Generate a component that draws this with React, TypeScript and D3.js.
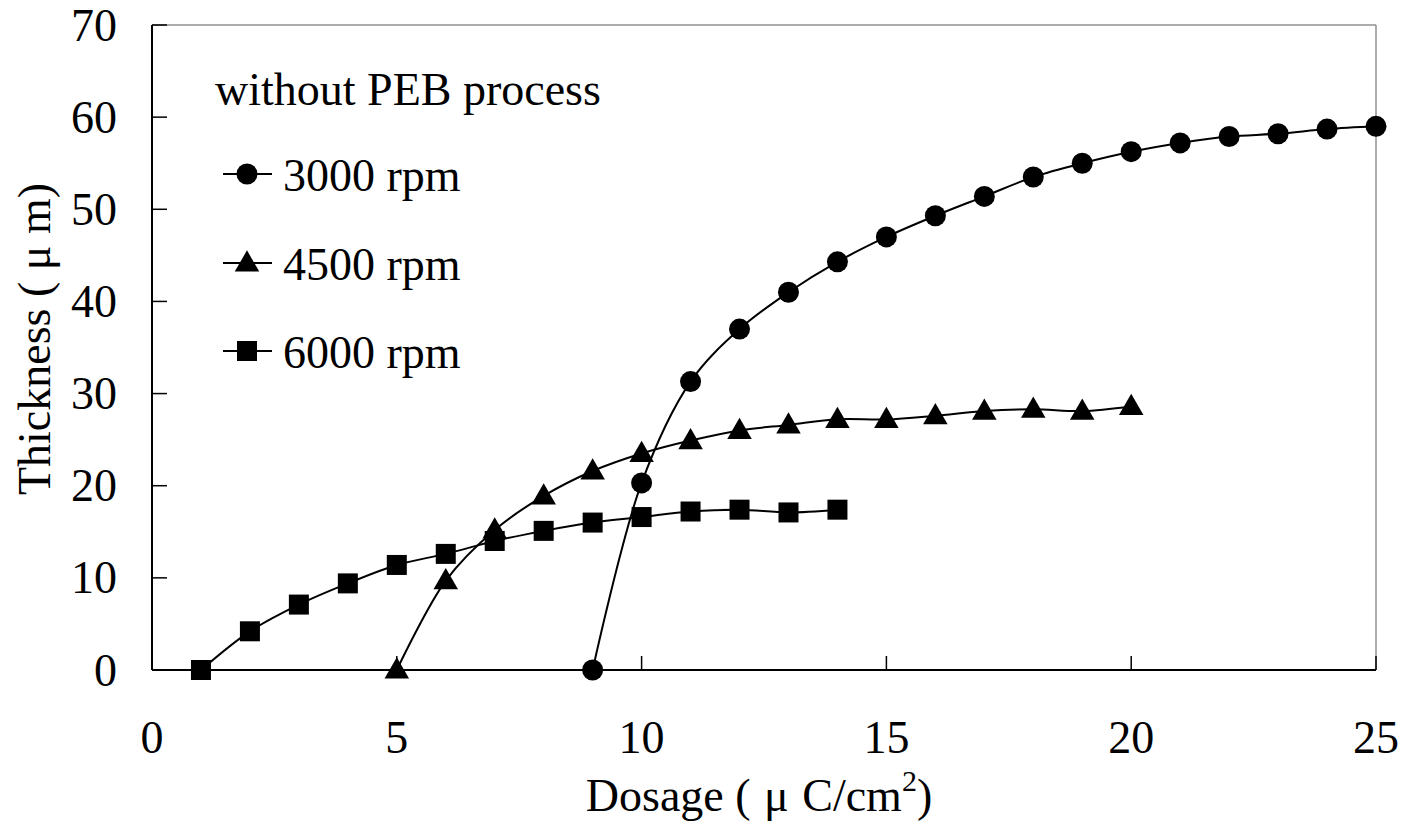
import React from "react";
import * as d3 from "d3";

const xTicks = [0, 5, 10, 15, 20, 25];
const yTicks = [0, 10, 20, 30, 40, 50, 60, 70];

const dose3000 = [9, 10, 11, 12, 13, 14, 15, 16, 17, 18, 19, 20, 21, 22, 23, 24, 25];
const thick3000 = [0, 20.3, 31.3, 37.0, 41.0, 44.3, 47.0, 49.3, 51.4, 53.5, 55.0, 56.25, 57.2, 57.9, 58.2, 58.7, 59.0];

const dose4500 = [5, 6, 7, 8, 9, 10, 11, 12, 13, 14, 15, 16, 17, 18, 19, 20];
const thick4500 = [0, 9.7, 15.2, 18.9, 21.6, 23.5, 24.9, 26.0, 26.6, 27.2, 27.2, 27.6, 28.1, 28.3, 28.1, 28.6];

const dose6000 = [1, 2, 3, 4, 5, 6, 7, 8, 9, 10, 11, 12, 13, 14];
const thick6000 = [0, 4.2, 7.1, 9.4, 11.4, 12.6, 14.0, 15.1, 16.0, 16.6, 17.2, 17.4, 17.1, 17.4];

const legendTitle = "without PEB process";
const seriesNames = ["3000 rpm", "4500 rpm", "6000 rpm"];

const W = 1406;
const H = 835;
const L = 152, R = 1376, T = 25, B = 670;
const FONT = "'Liberation Serif', 'Times New Roman', serif";
const FS = 46;

function Marker({ kind, x, y }: { kind: string; x: number; y: number }) {
  if (kind === "circle") return <circle cx={x} cy={y} r={10.5} fill="#000" />;
  if (kind === "square") return <rect x={x - 10} y={y - 10} width={20} height={20} fill="#000" />;
  const s = d3.symbol(d3.symbolTriangle, 260)();
  return <path d={s || ""} transform={`translate(${x},${y + 1.5})`} fill="#000" />;
}

export default function App() {
  const x = d3.scaleLinear().domain([0, 25]).range([L, R]);
  const y = d3.scaleLinear().domain([0, 70]).range([B, T]);
  const line = d3
    .line<[number, number]>()
    .x((d) => x(d[0]))
    .y((d) => y(d[1]))
    .curve(d3.curveCatmullRom.alpha(0.5));

  const series = [
    { name: seriesNames[0], xs: dose3000, ys: thick3000, kind: "circle" },
    { name: seriesNames[1], xs: dose4500, ys: thick4500, kind: "triangle" },
    { name: seriesNames[2], xs: dose6000, ys: thick6000, kind: "square" },
  ];

  const legendY = [174, 263, 351];

  return (
    <svg width={W} height={H} style={{ position: "absolute", left: 0, top: 0, background: "#fff" }} fontFamily={FONT}>
      <rect x={0} y={0} width={W} height={H} fill="#fff" />
      {/* frame */}
      <line x1={L} y1={T} x2={R} y2={T} stroke="#909090" strokeWidth={1.5} />
      <line x1={R} y1={T} x2={R} y2={B} stroke="#909090" strokeWidth={1.5} />
      <line x1={L} y1={B} x2={R} y2={B} stroke="#000" strokeWidth={2} />
      <line x1={L} y1={T} x2={L} y2={B} stroke="#000" strokeWidth={2} />
      {/* ticks */}
      {yTicks.map((t) => (
        <g key={"y" + t}>
          <line x1={L} x2={L + 15} y1={y(t)} y2={y(t)} stroke="#000" strokeWidth={1.5} />
          <text x={117} y={y(t)} dy="0.34em" textAnchor="end" fontSize={FS} fill="#000">
            {t}
          </text>
        </g>
      ))}
      {xTicks.map((t) => (
        <g key={"x" + t}>
          <line x1={x(t)} x2={x(t)} y1={B} y2={B - 14} stroke="#000" strokeWidth={1.5} />
          <text x={x(t)} y={753} textAnchor="middle" fontSize={FS} fill="#000">
            {t}
          </text>
        </g>
      ))}
      {/* series */}
      {series.map((s) => {
        const pts: [number, number][] = s.xs.map((v, i) => [v, s.ys[i]]);
        return (
          <g key={s.name}>
            <path d={line(pts) || ""} fill="none" stroke="#000" strokeWidth={2} />
            {pts.map((p, i) => (
              <Marker key={i} kind={s.kind} x={x(p[0])} y={y(p[1])} />
            ))}
          </g>
        );
      })}
      {/* legend */}
      <text x={215} y={105} fontSize={FS} fill="#000">{legendTitle}</text>
      {series.map((s, i) => (
        <g key={"lg" + i}>
          <line x1={223} x2={272} y1={legendY[i]} y2={legendY[i]} stroke="#000" strokeWidth={2} />
          <Marker kind={s.kind} x={247} y={legendY[i]} />
          <text x={283} y={legendY[i] + 17} fontSize={FS} fill="#000">{s.name}</text>
        </g>
      ))}
      {/* axis titles */}
      <text x={759} y={811} textAnchor="middle" fontSize={FS} fill="#000">
        {"Dosage ( "}<tspan dx={2}>μ</tspan><tspan dx={2}>{" C/cm"}</tspan><tspan fontSize={30} dy={-20}>2</tspan><tspan dy={20}>)</tspan>
      </text>
      <text transform={`translate(50,339) rotate(-90)`} textAnchor="middle" fontSize={FS} fill="#000">
        Thickness ( μ m)
      </text>
    </svg>
  );
}
